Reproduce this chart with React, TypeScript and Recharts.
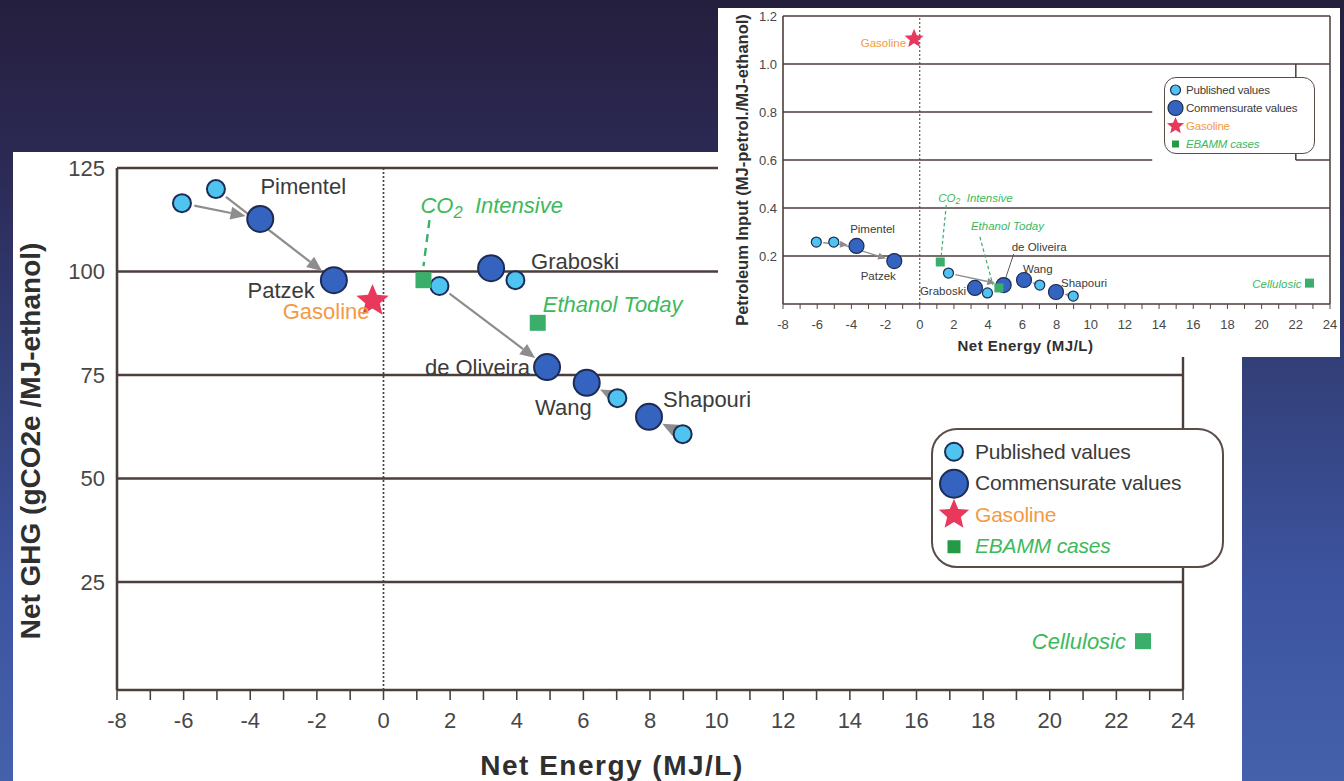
import React from 'react';
import { ScatterChart, Scatter, XAxis, YAxis, ReferenceLine } from 'recharts';

// studies, in the order their labels appear
const studies = ['Pimentel', 'Patzek', 'Graboski', 'de Oliveira', 'Wang', 'Shapouri'];
const publishedNetEnergy = [-6.05, -5.03, 3.96, 1.68, 7.02, 8.98];
const publishedGHG = [116.5, 119.9, 97.9, 96.5, 69.4, 60.7];
const publishedPetrol = [0.258, 0.258, 0.046, 0.129, 0.079, 0.033];
const commensurateNetEnergy = [-3.7, -1.49, 3.23, 4.91, 6.1, 7.97];
const commensurateGHG = [112.7, 97.9, 100.8, 76.9, 73.1, 64.9];
const commensuratePetrol = [0.242, 0.179, 0.067, 0.079, 0.1, 0.05];

const gasolineName = ['Gasoline'];
const gasolineNetEnergy = [-0.33];
const gasolineGHG = [92.9];
const gasolinePetrol = [1.105];

const ebammCases = ['CO2 Intensive', 'Ethanol Today', 'Cellulosic'];
const ebammNetEnergy = [1.2, 4.63, 22.8];
const ebammGHG = [97.9, 87.6, 10.7];
const ebammPetrol = [0.175, 0.067, 0.087];

// published -> commensurate adjustments drawn as arrows
const arrowStudies = ['Pimentel', 'Patzek', 'de Oliveira', 'Wang', 'Shapouri'];

const netEnergyTicks = [-8, -7, -6, -5, -4, -3, -2, -1, 0, 1, 2, 3, 4, 5, 6, 7, 8, 9, 10, 11, 12, 13, 14, 15, 16, 17, 18, 19, 20, 21, 22, 23, 24];
const ghgTicks = [25, 50, 75, 100, 125];
const petrolTicks = [0.2, 0.4, 0.6, 0.8, 1.0, 1.2];

const FONT = '"Liberation Sans", Arial, Helvetica, sans-serif';
const TEXT = '#3b3b3b';
const GRID = '#4b3f3b';
const GREEN = '#3db95c';
const ORANGE = '#f29a45';
const PUB_FILL = '#4fc4f1';
const COM_FILL = '#3464bf';
const MARK_STROKE = '#1c2c55';
const STAR_FILL = '#e8395c';
const SQ_FILL = '#3aae6a';
const ARROW = '#8d8d8d';

const toPoints = (xs: number[], ys: number[], names: string[]) =>
  xs.map((x, i) => ({ x, y: ys[i], name: names[i] }));

type LabelSpec = {
  dx: number;
  dy: number;
  anchor: 'start' | 'middle' | 'end';
  color?: string;
  italic?: boolean;
  leader?: number[];
  dashed?: boolean;
};

const MAIN_LABELS: Record<string, LabelSpec> = {
  Pimentel: { dx: 43, dy: -32, anchor: 'middle' },
  Patzek: { dx: -19, dy: 10, anchor: 'end' },
  Graboski: { dx: 40, dy: -7, anchor: 'start' },
  'de Oliveira': { dx: -17, dy: 0, anchor: 'end' },
  Wang: { dx: 5, dy: 25, anchor: 'end' },
  Shapouri: { dx: 14, dy: -17, anchor: 'start' },
  Gasoline: { dx: -3, dy: 11, anchor: 'end', color: ORANGE },
  'CO2 Intensive': { dx: -3, dy: -75, anchor: 'start', color: GREEN, italic: true, leader: [6, -60, 0, -14], dashed: true },
  'Ethanol Today': { dx: 5, dy: -18, anchor: 'start', color: GREEN, italic: true },
  Cellulosic: { dx: -17, dy: 0, anchor: 'end', color: GREEN, italic: true },
};

const INSET_LABELS: Record<string, LabelSpec> = {
  Pimentel: { dx: 16, dy: -17, anchor: 'middle' },
  Patzek: { dx: -16, dy: 15, anchor: 'middle' },
  Graboski: { dx: -9, dy: 3, anchor: 'end' },
  'de Oliveira': { dx: 8, dy: -38, anchor: 'start', leader: [10, -31, 2, -7] },
  Wang: { dx: -1, dy: -11, anchor: 'start' },
  Shapouri: { dx: 5, dy: -9, anchor: 'start' },
  Gasoline: { dx: -8, dy: 4, anchor: 'end', color: ORANGE },
  'CO2 Intensive': { dx: -2, dy: -64, anchor: 'start', color: GREEN, italic: true, leader: [6, -57, 1, -7], dashed: true },
  'Ethanol Today': { dx: -28, dy: -62, anchor: 'start', color: GREEN, italic: true, leader: [-19, -51, -6, -3], dashed: true },
  Cellulosic: { dx: -8, dy: 1, anchor: 'end', color: GREEN, italic: true },
};

type Look = {
  width: number;
  height: number;
  margin: { top: number; right: number; bottom: number; left: number };
  yAxisWidth: number;
  xAxisHeight: number;
  yDomain: [number, number];
  yTicks: number[];
  yFormat: (v: number) => string;
  tickFont: number;
  xTickSize: number;
  xTickMargin: number;
  yTickMargin: number;
  axisWidth: number;
  gridWidth: number;
  pubR: number;
  comR: number;
  starR: number;
  sq: number;
  markStroke: number;
  arrowWidth: number;
  arrowHead: number;
  arrowHeadW: number;
  labelFont: number;
  leaderWidth: number;
  leaderDash: string;
  labels: Record<string, LabelSpec>;
  xTitle: string;
  yTitle: string;
  xTitleFont: number;
  yTitleFont: number;
  xTitleDx: number;
  xTitleDy: number;
  yTitleX: number;
  yTitleDy: number;
  xLetterSpacing: number;
  fullGrid: number[];
  partialGrid: { y1: number; y2: number; x1: number; x2: number }[];
};

const MAIN: Look = {
  width: 1229,
  height: 629,
  margin: { top: 16, right: 59, bottom: 0, left: 0 },
  yAxisWidth: 104,
  xAxisHeight: 91,
  yDomain: [-1.1, 125],
  yTicks: ghgTicks,
  yFormat: (v) => String(v),
  tickFont: 22,
  xTickSize: 10,
  xTickMargin: 12,
  yTickMargin: 12,
  axisWidth: 2.6,
  gridWidth: 2.4,
  pubR: 9,
  comR: 13,
  starR: 17,
  sq: 16,
  markStroke: 2,
  arrowWidth: 2.2,
  arrowHead: 15,
  arrowHeadW: 13,
  labelFont: 22,
  leaderWidth: 2.4,
  leaderDash: '8 6',
  labels: MAIN_LABELS,
  xTitle: 'Net Energy (MJ/L)',
  yTitle: 'Net GHG (gCO2e /MJ-ethanol)',
  xTitleFont: 28,
  yTitleFont: 28,
  xTitleDx: -38,
  xTitleDy: 75,
  yTitleX: 17,
  yTitleDy: 12,
  xLetterSpacing: 1.5,
  fullGrid: [25, 50, 75, 100, 125],
  partialGrid: [],
};

const INSET: Look = {
  width: 622,
  height: 349,
  margin: { top: 8, right: 10, bottom: 0, left: 0 },
  yAxisWidth: 65,
  xAxisHeight: 53,
  yDomain: [0, 1.2],
  yTicks: petrolTicks,
  yFormat: (v) => v.toFixed(1),
  tickFont: 13,
  xTickSize: 5,
  xTickMargin: 11,
  yTickMargin: 6,
  axisWidth: 1.6,
  gridWidth: 1.5,
  pubR: 5,
  comR: 7.5,
  starR: 10,
  sq: 9,
  markStroke: 1.2,
  arrowWidth: 1.3,
  arrowHead: 8,
  arrowHeadW: 7,
  labelFont: 11.5,
  leaderWidth: 1.2,
  leaderDash: '3.5 2.5',
  labels: INSET_LABELS,
  xTitle: 'Net Energy (MJ/L)',
  yTitle: 'Petroleum Input (MJ-petrol./MJ-ethanol)',
  xTitleFont: 15,
  yTitleFont: 16.5,
  xTitleDx: -31,
  xTitleDy: 41,
  yTitleX: 24,
  yTitleDy: 10,
  xLetterSpacing: 0.5,
  fullGrid: [0.2, 0.4, 1.0, 1.2],
  partialGrid: [
    { y1: 0.8, y2: 0.8, x1: -8, x2: 13.6 },
    { y1: 0.6, y2: 0.6, x1: -8, x2: 13.6 },
    { y1: 0.6, y2: 0.6, x1: 22, x2: 24 },
    { y1: 0.6, y2: 1.0, x1: 22, x2: 22 },
  ],
};

const starPoints = (cx: number, cy: number, r: number) => {
  const pts: string[] = [];
  for (let k = 0; k < 10; k++) {
    const a = (-90 + k * 36) * (Math.PI / 180);
    const rr = k % 2 === 0 ? r : r * 0.45;
    pts.push(`${cx + rr * Math.cos(a)},${cy + rr * Math.sin(a)}`);
  }
  return pts.join(' ');
};

function Arrow(props: any, look: Look) {
  const { x1, y1, x2, y2 } = props;
  const dx = x2 - x1;
  const dy = y2 - y1;
  const len = Math.hypot(dx, dy) || 1;
  const ux = dx / len;
  const uy = dy / len;
  const startGap = look.pubR * 1.4;
  const endGap = look.comR * 1.15;
  const sx = x1 + ux * startGap;
  const sy = y1 + uy * startGap;
  const ex = x2 - ux * endGap;
  const ey = y2 - uy * endGap;
  const avail = len - startGap - endGap;
  const head = look.arrowHead;
  const bx = ex - ux * head;
  const by = ey - uy * head;
  const nx = -uy * (look.arrowHeadW / 2);
  const ny = ux * (look.arrowHeadW / 2);
  return (
    <g>
      {avail > head && (
        <line x1={sx} y1={sy} x2={bx} y2={by} stroke={ARROW} strokeWidth={look.arrowWidth} />
      )}
      <polygon points={`${ex},${ey} ${bx + nx},${by + ny} ${bx - nx},${by - ny}`} fill={ARROW} />
    </g>
  );
}

function renderLabel(props: any, look: Look) {
  const name = props.payload?.name;
  const spec = look.labels[name];
  if (!spec) return <g />;
  const { cx, cy } = props;
  const fs = look.labelFont;
  const color = spec.color || TEXT;
  const leader = spec.leader;
  return (
    <g>
      {leader && (
        <line
          x1={cx + leader[0]}
          y1={cy + leader[1]}
          x2={cx + leader[2]}
          y2={cy + leader[3]}
          stroke={spec.dashed ? SQ_FILL : '#555'}
          strokeWidth={spec.dashed ? look.leaderWidth : look.leaderWidth * 0.8}
          strokeDasharray={spec.dashed ? look.leaderDash : undefined}
        />
      )}
      <text
        x={cx + spec.dx}
        y={cy + spec.dy}
        textAnchor={spec.anchor}
        dominantBaseline="central"
        fill={color}
        fontSize={fs}
        fontStyle={spec.italic ? 'italic' : 'normal'}
        fontFamily={FONT}
      >
        {name === 'CO2 Intensive' ? (
          <>
            <tspan>CO</tspan>
            <tspan fontSize={fs * 0.75} dy={fs * 0.3}>2</tspan>
            <tspan dy={-fs * 0.3}>{'\u00a0 Intensive'}</tspan>
          </>
        ) : (
          name
        )}
      </text>
    </g>
  );
}

function NetEnergyChart({ look, yValues }: { look: Look; yValues: { pub: number[]; com: number[]; gas: number[]; ebamm: number[] } }) {
  const published = toPoints(publishedNetEnergy, yValues.pub, studies);
  const commensurate = toPoints(commensurateNetEnergy, yValues.com, studies);
  const gasoline = toPoints(gasolineNetEnergy, yValues.gas, gasolineName);
  const ebamm = toPoints(ebammNetEnergy, yValues.ebamm, ebammCases);
  const labelPoints = [...commensurate, ...gasoline, ...ebamm];

  const tickStyle = { fontSize: look.tickFont, fill: '#474747', fontFamily: FONT };

  return (
    <ScatterChart width={look.width} height={look.height} margin={look.margin}>
      <XAxis
        type="number"
        dataKey="x"
        domain={[-8, 24]}
        ticks={netEnergyTicks}
        interval={0}
        allowDataOverflow
        tickFormatter={(v: number) => (v % 2 === 0 ? String(v) : '')}
        tick={tickStyle}
        tickSize={look.xTickSize}
        tickMargin={look.xTickMargin}
        tickLine={{ stroke: GRID, strokeWidth: look.axisWidth * 0.6 }}
        axisLine={{ stroke: GRID, strokeWidth: look.axisWidth }}
        height={look.xAxisHeight}
        label={{
          content: (p: any) => {
            const vb = p.viewBox;
            return (
              <text
                x={vb.x + vb.width / 2 + look.xTitleDx}
                y={vb.y + look.xTitleDy}
                textAnchor="middle"
                dominantBaseline="central"
                fontSize={look.xTitleFont}
                fontWeight="bold"
                fill="#2f2f2f"
                fontFamily={FONT}
                letterSpacing={look.xLetterSpacing}
              >
                {look.xTitle}
              </text>
            );
          },
        }}
      />
      <YAxis
        type="number"
        dataKey="y"
        domain={look.yDomain}
        ticks={look.yTicks}
        interval={0}
        allowDataOverflow
        tickFormatter={look.yFormat}
        tick={tickStyle}
        tickSize={0}
        tickLine={false}
        tickMargin={look.yTickMargin}
        axisLine={{ stroke: GRID, strokeWidth: look.axisWidth }}
        width={look.yAxisWidth}
        label={{
          content: (p: any) => {
            const vb = p.viewBox;
            const x = vb.x + look.yTitleX;
            const y = vb.y + vb.height / 2 + look.yTitleDy;
            return (
              <text
                x={x}
                y={y}
                transform={`rotate(-90, ${x}, ${y})`}
                textAnchor="middle"
                dominantBaseline="central"
                fontSize={look.yTitleFont}
                fontWeight="bold"
                fill="#2f2f2f"
                fontFamily={FONT}
              >
                {look.yTitle}
              </text>
            );
          },
        }}
      />

      {look.fullGrid.map((v) => (
        <ReferenceLine key={`g${v}`} y={v} stroke={GRID} strokeWidth={look.gridWidth} />
      ))}
      {look.partialGrid.map((s, i) => (
        <ReferenceLine
          key={`p${i}`}
          segment={[{ x: s.x1, y: s.y1 }, { x: s.x2, y: s.y2 }]}
          stroke={GRID}
          strokeWidth={look.gridWidth}
        />
      ))}
      <ReferenceLine x={24} stroke={GRID} strokeWidth={look.gridWidth} />
      <ReferenceLine x={0} stroke="#444" strokeWidth={look.gridWidth * 0.7} strokeDasharray="2 2" />

      <Scatter
        data={published}
        isAnimationActive={false}
        shape={(p: any) => (
          <circle cx={p.cx} cy={p.cy} r={look.pubR} fill={PUB_FILL} stroke={MARK_STROKE} strokeWidth={look.markStroke} />
        )}
      />
      <Scatter
        data={commensurate}
        isAnimationActive={false}
        shape={(p: any) => (
          <circle cx={p.cx} cy={p.cy} r={look.comR} fill={COM_FILL} stroke={MARK_STROKE} strokeWidth={look.markStroke} />
        )}
      />

      {arrowStudies.map((s) => {
        const i = studies.indexOf(s);
        return (
          <ReferenceLine
            key={`a${s}`}
            segment={[
              { x: published[i].x, y: published[i].y },
              { x: commensurate[i].x, y: commensurate[i].y },
            ]}
            shape={(p: any) => Arrow(p, look)}
          />
        );
      })}

      <Scatter
        data={gasoline}
        isAnimationActive={false}
        shape={(p: any) => <polygon points={starPoints(p.cx, p.cy, look.starR)} fill={STAR_FILL} />}
      />
      <Scatter
        data={ebamm}
        isAnimationActive={false}
        shape={(p: any) => (
          <rect x={p.cx - look.sq / 2} y={p.cy - look.sq / 2} width={look.sq} height={look.sq} fill={SQ_FILL} />
        )}
      />
      <Scatter data={labelPoints} isAnimationActive={false} shape={(p: any) => renderLabel(p, look)} />
    </ScatterChart>
  );
}

type LegendLook = {
  left: number;
  top: number;
  width: number;
  height: number;
  border: number;
  radius: number;
  padTop: number;
  rowH: number;
  symW: number;
  font: number;
  pubR: number;
  comR: number;
  starR: number;
  sq: number;
  stroke: number;
};

const MAIN_LEGEND: LegendLook = {
  left: 918, top: 276, width: 293, height: 140, border: 2, radius: 26,
  padTop: 6, rowH: 31.5, symW: 42, font: 21, pubR: 9, comR: 14, starR: 16, sq: 13, stroke: 2,
};
const INSET_LEGEND: LegendLook = {
  left: 446, top: 69, width: 151, height: 77, border: 1.5, radius: 12,
  padTop: 2.5, rowH: 18, symW: 21, font: 11.5, pubR: 5, comR: 7.5, starR: 9, sq: 7, stroke: 1.2,
};

const legendItems = [
  { key: 'pub', text: 'Published values', color: TEXT, italic: false },
  { key: 'com', text: 'Commensurate values', color: TEXT, italic: false },
  { key: 'gas', text: 'Gasoline', color: ORANGE, italic: false },
  { key: 'ebamm', text: 'EBAMM cases', color: GREEN, italic: true },
];

function LegendBox({ look }: { look: LegendLook }) {
  const c = look.symW / 2;
  const m = look.rowH / 2;
  const symbol = (key: string) => {
    if (key === 'pub') return <circle cx={c} cy={m} r={look.pubR} fill={PUB_FILL} stroke={MARK_STROKE} strokeWidth={look.stroke} />;
    if (key === 'com') return <circle cx={c} cy={m} r={look.comR} fill={COM_FILL} stroke={MARK_STROKE} strokeWidth={look.stroke} />;
    if (key === 'gas') return <polygon points={starPoints(c, m, look.starR)} fill={STAR_FILL} />;
    return <rect x={c - look.sq / 2} y={m - look.sq / 2} width={look.sq} height={look.sq} fill="#249a45" />;
  };
  return (
    <div
      style={{
        position: 'absolute',
        left: look.left,
        top: look.top,
        width: look.width,
        height: look.height,
        boxSizing: 'border-box',
        border: `${look.border}px solid #5a4d48`,
        borderRadius: look.radius,
        background: '#fff',
        paddingTop: look.padTop,
        fontFamily: FONT,
      }}
    >
      {legendItems.map((it) => (
        <div key={it.key} style={{ height: look.rowH, display: 'flex', alignItems: 'center' }}>
          <svg width={look.symW} height={look.rowH} style={{ flex: 'none', overflow: 'visible' }}>
            {symbol(it.key)}
          </svg>
          <span style={{ fontSize: look.font, color: it.color, fontStyle: it.italic ? 'italic' : 'normal', whiteSpace: 'nowrap', letterSpacing: -0.2 }}>
            {it.text}
          </span>
        </div>
      ))}
    </div>
  );
}

export default function App() {
  return (
    <div
      style={{
        position: 'relative',
        width: 1344,
        height: 781,
        overflow: 'hidden',
        fontFamily: FONT,
        background: 'linear-gradient(180deg, #251f3e 0%, #2c2a56 22%, #33407a 48%, #3d54a0 75%, #4561ab 100%)',
      }}
    >
      <style>{'body{margin:0}'}</style>
      <div style={{ position: 'absolute', left: 13, top: 152, width: 1229, height: 629, background: '#fff' }}>
        <NetEnergyChart
          look={MAIN}
          yValues={{ pub: publishedGHG, com: commensurateGHG, gas: gasolineGHG, ebamm: ebammGHG }}
        />
        <LegendBox look={MAIN_LEGEND} />
      </div>
      <div style={{ position: 'absolute', left: 718, top: 8, width: 622, height: 349, background: '#fff' }}>
        <NetEnergyChart
          look={INSET}
          yValues={{ pub: publishedPetrol, com: commensuratePetrol, gas: gasolinePetrol, ebamm: ebammPetrol }}
        />
        <LegendBox look={INSET_LEGEND} />
      </div>
    </div>
  );
}
